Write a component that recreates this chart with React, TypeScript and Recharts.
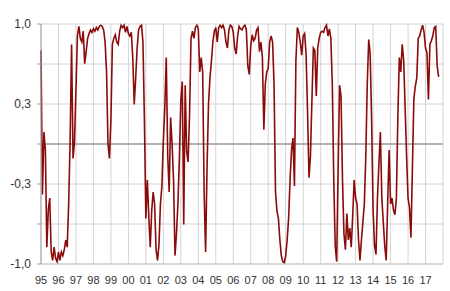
import { LineChart, Line, XAxis, YAxis, CartesianGrid, ReferenceLine } from "recharts";

// monthly values, Jan 1995 .. Oct 2017
const y1995 = [0.78, -0.42, 0.1, -0.05, -0.86, -0.55, -0.45, -0.9, -0.97, -0.86, -0.95, -0.98];
const y1996 = [-0.9, -0.97, -0.9, -0.93, -0.88, -0.8, -0.86, -0.5, 0.03, 0.83, -0.12, 0.02];
const y1997 = [0.45, 0.9, 0.98, 0.88, 0.85, 0.94, 0.67, 0.77, 0.88, 0.92, 0.95, 0.93];
const y1998 = [0.96, 0.94, 0.97, 0.95, 0.98, 0.99, 0.98, 0.95, 0.85, 0.6, 0.0, -0.12];
const y1999 = [0.2, 0.83, 0.88, 0.91, 0.85, 0.83, 0.94, 0.99, 0.97, 0.99, 0.93, 0.98];
const y2000 = [0.92, 0.9, 0.93, 0.72, 0.33, 0.55, 0.8, 0.95, 0.98, 0.99, 0.85, 0.2];
const y2001 = [-0.62, -0.3, -0.6, -0.86, -0.56, -0.4, -0.5, -0.88, -0.97, -0.84, -0.5, -0.35];
const y2002 = [0.03, 0.3, 0.72, -0.1, -0.4, 0.22, 0.0, -0.3, -0.93, -0.75, -0.5, -0.12];
const y2003 = [0.36, 0.52, -0.67, 0.49, -0.06, -0.15, 0.25, 0.88, 0.94, 0.88, 0.97, 0.99];
const y2004 = [0.96, 0.6, 0.72, 0.6, -0.4, -0.9, -0.2, 0.33, 0.55, 0.69, 0.85, 0.94];
const y2005 = [0.97, 0.85, 0.97, 0.99, 0.97, 0.99, 0.95, 0.85, 0.8, 0.95, 0.99, 0.98];
const y2006 = [0.93, 0.8, 0.75, 0.9, 0.98, 0.96, 0.95, 0.98, 0.99, 0.95, 0.65, 0.58];
const y2007 = [0.82, 0.91, 0.86, 0.88, 0.95, 0.97, 0.77, 0.85, 0.72, 0.12, 0.5, 0.6];
const y2008 = [0.63, 0.85, 0.9, 0.85, 0.5, -0.4, -0.56, -0.62, -0.8, -0.93, -0.98, -0.99];
const y2009 = [-0.93, -0.8, -0.62, -0.3, -0.05, 0.05, -0.35, 0.69, 0.97, 0.93, 0.85, 0.74];
const y2010 = [0.9, 0.92, 0.75, 0.27, -0.28, -0.1, 0.36, 0.8, 0.78, 0.4, 0.8, 0.88];
const y2011 = [0.93, 0.94, 0.93, 0.97, 0.99, 0.9, 0.96, 0.88, 0.5, -0.3, -0.85, -0.98];
const y2012 = [-0.2, 0.49, 0.4, -0.3, -0.75, -0.88, -0.58, -0.8, -0.7, -0.86, -0.6, -0.3];
const y2013 = [-0.45, -0.5, -0.8, -0.97, -0.8, -0.65, -0.5, -0.1, 0.5, 0.87, 0.75, 0.2];
const y2014 = [-0.55, -0.85, -0.92, -0.45, -0.17, 0.1, -0.45, -0.65, -0.85, -0.97, -0.5, -0.05];
const y2015 = [-0.5, -0.45, -0.55, -0.59, -0.45, 0.22, 0.72, 0.6, 0.83, 0.7, 0.3, -0.1];
const y2016 = [-0.45, -0.53, -0.78, -0.2, 0.38, 0.48, 0.55, 0.88, 0.9, 0.95, 0.99, 0.93];
const y2017 = [0.8, 0.76, 0.37, 0.83, 0.86, 0.9, 0.97, 0.98, 0.65, 0.56];

const years = [
  y1995, y1996, y1997, y1998, y1999, y2000, y2001, y2002, y2003, y2004, y2005, y2006,
  y2007, y2008, y2009, y2010, y2011, y2012, y2013, y2014, y2015, y2016, y2017,
];
const yearLabels = [
  "95", "96", "97", "98", "99", "00", "01", "02", "03", "04", "05", "06",
  "07", "08", "09", "10", "11", "12", "13", "14", "15", "16", "17", "",
];
const yTicks = [-1, -2 / 3, -1 / 3, 0, 1 / 3, 2 / 3, 1];
const yTickLabels: Record<string, string> = { "1": "1,0", "0.333": "0,3", "-0.333": "-0,3", "-1": "-1,0" };

const data = years.flatMap((vals, yi) => vals.map((v, mi) => ({ t: yi * 12 + mi, v })));
const xTicks = yearLabels.map((_, i) => i * 12);

export default function App() {
  return (
    <div style={{ position: "absolute", left: 0, top: 0, width: 450, height: 291, background: "#fff" }}>
      <LineChart width={450} height={291} data={data} margin={{ top: 24, right: 7, bottom: 7, left: 0 }}>
        <CartesianGrid stroke="#d4d4d4" strokeWidth={1} />
        <XAxis
          dataKey="t"
          type="number"
          domain={[0, 276]}
          ticks={xTicks}
          interval={0}
          tickFormatter={(t: number) => yearLabels[Math.round(t / 12)]}
          tickLine={false}
          axisLine={{ stroke: "#c8c8c8" }}
          height={20}
          tick={{ fill: "#333", fontSize: 11, fontFamily: "Liberation Sans, Arial, sans-serif" }}
          tickMargin={6}
        />
        <YAxis
          type="number"
          domain={[-1, 1]}
          ticks={yTicks}
          interval={0}
          width={41}
          tickFormatter={(v: number) => yTickLabels[String(Math.round(v * 1000) / 1000)] ?? ""}
          tickSize={4}
          tickMargin={6}
          tickLine={{ stroke: "#a0a0a0" }}
          axisLine={{ stroke: "#a0a0a0" }}
          tick={{ fill: "#333", fontSize: 12, fontFamily: "Liberation Sans, Arial, sans-serif" }}
        />
        <ReferenceLine y={0} stroke="#7a7a7a" strokeWidth={1} />
        <Line
          dataKey="v"
          type="linear"
          stroke="#8b0a0a"
          strokeWidth={1.6}
          dot={false}
          isAnimationActive={false}
        />
      </LineChart>
    </div>
  );
}
